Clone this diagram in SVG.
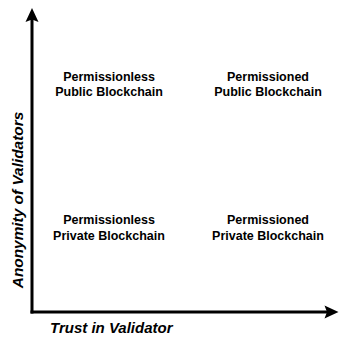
<svg xmlns="http://www.w3.org/2000/svg" width="339" height="337" viewBox="0 0 339 337">
<style>
.lbl{font-family:"Liberation Sans",Arial,sans-serif;font-weight:bold;font-size:12.5px;fill:#000;text-anchor:middle}
.ax{font-family:"Liberation Sans",Arial,sans-serif;font-weight:bold;font-style:italic;fill:#000}
.axis{stroke:#000;stroke-width:3;fill:none}
</style>
<rect width="339" height="337" fill="#fff"/>
<g id="connectors">
<line class="axis" x1="32" y1="313.5" x2="32" y2="18"/>
<polygon points="32,8 38.5,22 32,19.5 25.5,22" fill="#000"/>
<line class="axis" x1="30.5" y1="312" x2="330" y2="312"/>
<polygon points="338.5,312 324.5,318.5 327,312 324.5,305.5" fill="#000"/>
</g>
<g id="y-label"><text class="ax" font-size="15.4" transform="translate(22.8,200) rotate(-90)" text-anchor="middle">Anonymity of Validators</text></g>
<g id="x-label"><text class="ax" font-size="15" x="50" y="332.5">Trust in Validator</text></g>
<g id="n1"><text class="lbl" x="109" y="80.5">Permissionless</text><text class="lbl" x="109" y="96">Public Blockchain</text></g>
<g id="n2"><text class="lbl" x="268" y="80.5">Permissioned</text><text class="lbl" x="268" y="96">Public Blockchain</text></g>
<g id="n3"><text class="lbl" x="109" y="224">Permissionless</text><text class="lbl" x="109" y="239.5">Private Blockchain</text></g>
<g id="n4"><text class="lbl" x="268" y="224">Permissioned</text><text class="lbl" x="268" y="239.5">Private Blockchain</text></g>
</svg>
